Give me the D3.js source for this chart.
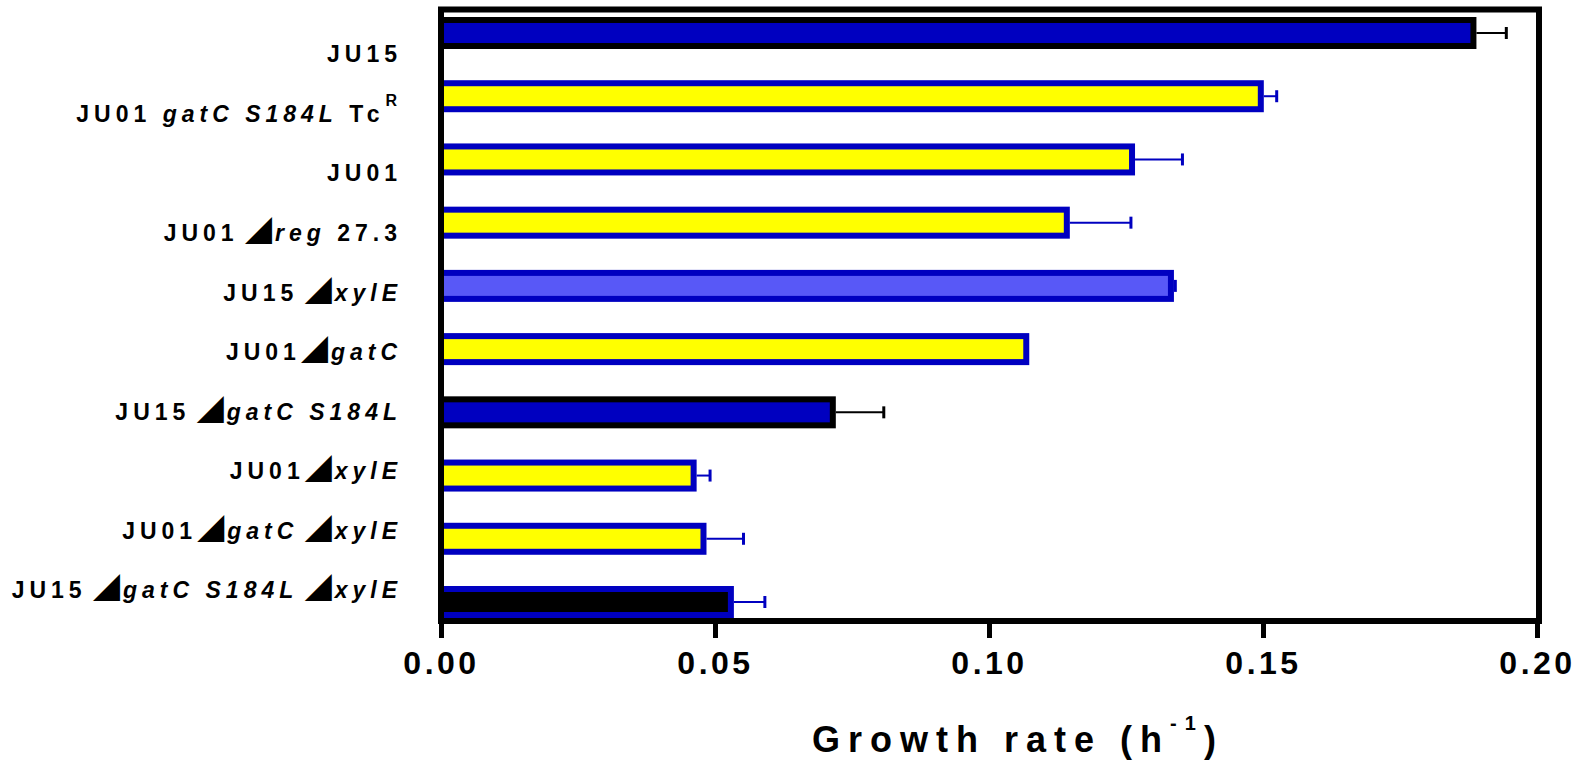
<!DOCTYPE html>
<html>
<head>
<meta charset="utf-8">
<script src="https://cdn.jsdelivr.net/npm/d3@7"></script>
<style>
  html, body { margin: 0; padding: 0; background: #fff; }
  svg { display: block; }
  text { font-family: "Liberation Sans", Arial, sans-serif; font-weight: bold; fill: #000; }
</style>
</head>
<body>
<svg id="chart" width="1583" height="761"></svg>
<script>
// Strains, top to bottom. Markup: _italic_, ^superscript, ◢ deletion mark.
const strains = [
  "JU15",
  "JU01 _gatC S184L_ Tc^R",
  "JU01",
  "JU01 ◢_reg_ 27.3",
  "JU15 ◢_xylE_",
  "JU01◢_gatC_",
  "JU15 ◢_gatC S184L_",
  "JU01◢_xylE_",
  "JU01◢_gatC_ ◢_xylE_",
  "JU15 ◢_gatC S184L_ ◢_xylE_"
];
// Mean growth rate (h^-1) and its error
const growthRate = [0.1884, 0.1496, 0.1261, 0.1142, 0.1332, 0.1068, 0.0715, 0.0461, 0.0479, 0.0529];
const growthErr  = [0.0060, 0.0029, 0.0092, 0.0117, 0.0008, 0.0000, 0.0093, 0.0030, 0.0073, 0.0062];
// Strain background: bar styling groups
const strainGroup = ["JU15", "JU01", "JU01", "JU01", "JU15-light", "JU01", "JU15", "JU01", "JU01", "JU15-dark"];
const xTicks = [0, 0.05, 0.10, 0.15, 0.20];

const fillOf = d3.scaleOrdinal()
  .domain(["JU15", "JU01", "JU15-light", "JU15-dark"])
  .range(["#0000c0", "#ffff00", "#5858f7", "#000000"]);
const edgeOf = d3.scaleOrdinal()
  .domain(["JU15", "JU01", "JU15-light", "JU15-dark"])
  .range(["#000000", "#0000c0", "#0000c0", "#0000c0"]);

const rows = strains.map((s, i) => ({ s, v: growthRate[i], e: growthErr[i], g: strainGroup[i] }));

const svg = d3.select("#chart");
const x0 = 441, x1 = 1537, yTop = 9.5, yBot = 621;

const x = d3.scaleLinear().domain([0, 0.20]).range([x0, x1]);
const y = d3.scalePoint().domain(strains).range([33, 602]);
const yLabel = d3.scalePoint().domain(strains).range([62.3, 598.3]);
const barH = 26, edgeW = 6;

// Bars
const bars = svg.append("g");
bars.selectAll("rect").data(rows).join("rect")
  .attr("x", x(0))
  .attr("y", d => y(d.s) - barH / 2)
  .attr("width", d => x(d.v) - x(0))
  .attr("height", barH)
  .attr("fill", d => fillOf(d.g))
  .attr("stroke", d => edgeOf(d.g))
  .attr("stroke-width", edgeW);

// Error bars (upper side only)
const errs = svg.append("g").selectAll("g").data(rows.filter(d => d.e > 0)).join("g");
errs.append("line")
  .attr("x1", d => x(d.v) + edgeW / 2)
  .attr("x2", d => x(d.v + d.e))
  .attr("y1", d => y(d.s)).attr("y2", d => y(d.s))
  .attr("stroke", d => edgeOf(d.g)).attr("stroke-width", 2);
errs.append("line")
  .attr("x1", d => x(d.v + d.e)).attr("x2", d => x(d.v + d.e))
  .attr("y1", d => y(d.s) - 6).attr("y2", d => y(d.s) + 6)
  .attr("stroke", d => edgeOf(d.g)).attr("stroke-width", 3);

// Frame
svg.append("rect")
  .attr("x", x0).attr("y", yTop)
  .attr("width", x1 + 2 - x0).attr("height", yBot - yTop)
  .attr("fill", "none").attr("stroke", "#000").attr("stroke-width", 6);

// X axis
const xAxis = d3.axisBottom(x).tickValues(xTicks).tickFormat(d3.format(".2f"))
  .tickSize(17).tickPadding(30);
const gx = svg.append("g").attr("transform", `translate(0,${yBot})`).call(xAxis);
gx.select(".domain").remove();
gx.selectAll(".tick line").attr("stroke", "#000").attr("stroke-width", 5);
gx.selectAll(".tick text")
  .attr("font-family", "Liberation Sans, Arial, sans-serif")
  .attr("font-weight", "bold")
  .attr("font-size", 32)
  .attr("letter-spacing", "3.5px")
  .attr("fill", "#000")
  .attr("dy", "0.2em");

// Strain labels with italic genes, deletion marks and superscripts
function addRich(textSel, str) {
  const re = /(_[^_]+_|\^\S+|◢)/g;
  const parts = str.split(re).filter(p => p.length);
  parts.forEach((p, i) => {
    const nextIsMark = parts[i + 1] === "◢";
    if (p === "◢") {
      textSel.append("tspan").text("◢")
        .attr("font-family", "Noto Sans CJK JP, DejaVu Sans, sans-serif")
        .attr("font-size", 27).attr("letter-spacing", "3px");
    } else if (p[0] === "_") {
      textSel.append("tspan").text(p.slice(1, -1)).attr("font-style", "italic");
    } else if (p[0] === "^") {
      textSel.append("tspan").text(p.slice(1))
        .attr("font-size", 16).attr("dy", -16).attr("dx", 1);
    } else if (nextIsMark && p.endsWith(" ")) {
      // a tighter space ahead of the deletion mark
      textSel.append("tspan").text(p.slice(0, -1));
      textSel.append("tspan").text(" ").attr("letter-spacing", "0px");
    } else {
      textSel.append("tspan").text(p);
    }
  });
}

const labels = svg.append("g");
rows.forEach(d => {
  const t = labels.append("text")
    .attr("x", 402)
    .attr("y", yLabel(d.s))
    .attr("text-anchor", "end")
    .attr("font-size", 23)
    .attr("letter-spacing", "5px")
    .style("white-space", "pre");
  addRich(t, d.s);
});

// Axis title
const title = svg.append("text")
  .attr("x", 1018).attr("y", 752)
  .attr("text-anchor", "middle")
  .attr("font-size", 36)
  .attr("letter-spacing", "8px")
  .style("white-space", "pre");
title.append("tspan").text("Growth rate (h");
title.append("tspan").text("-1").attr("font-size", 20).attr("dy", -22);
title.append("tspan").text(")").attr("dy", 22);
</script>
</body>
</html>
